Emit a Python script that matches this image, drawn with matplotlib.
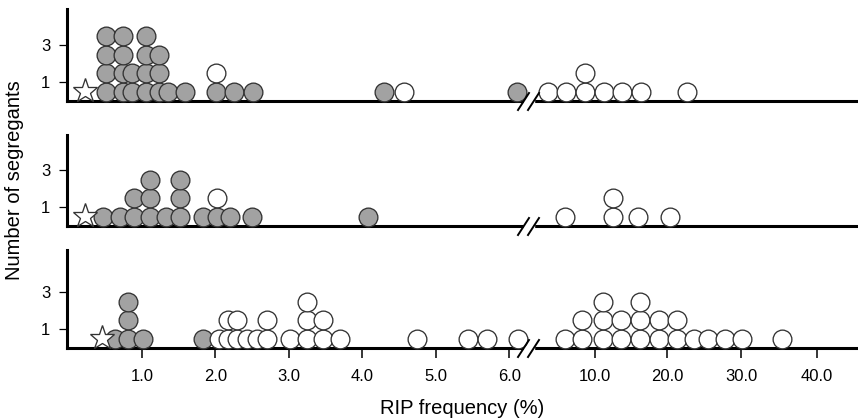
import numpy as np
import matplotlib as mpl
mpl.use('Agg')
import matplotlib.pyplot as plt
from matplotlib.lines import Line2D
from matplotlib.patches import Rectangle

plt.rcParams['font.family'] = ['Liberation Sans', 'DejaVu Sans']

# RIP frequency (%) of each dot column, and how many grey / open dots sit in it
top_vals = [0.51, 0.74, 0.86, 1.06, 1.23, 1.36, 1.59, 2.01, 2.25, 2.51, 4.30, 4.57, 6.11,
            7.0, 8.15, 9.35, 11.25, 13.75, 16.4, 22.7]
top_gray = [4, 4, 2, 4, 3, 1, 1, 1, 1, 1, 1, 0, 1, 0, 0, 0, 0, 0, 0, 0]
top_white = [0, 0, 0, 0, 0, 0, 0, 1, 0, 0, 0, 1, 0, 1, 1, 2, 1, 1, 1, 1]
top_star = 0.22

mid_vals = [0.47, 0.70, 0.89, 1.11, 1.33, 1.52, 1.83, 2.02, 2.20, 2.50, 4.08,
            8.1, 12.5, 16.0, 20.4]
mid_gray = [1, 1, 2, 3, 1, 3, 1, 1, 1, 1, 1, 0, 0, 0, 0]
mid_white = [0, 0, 0, 0, 0, 0, 0, 1, 0, 0, 0, 1, 2, 1, 1]
mid_star = 0.22

bot_vals = [0.63, 0.81, 1.01, 1.83, 2.05, 2.17, 2.30, 2.43, 2.57, 2.70, 3.02, 3.25, 3.47,
            3.70, 4.75, 5.44, 5.70, 6.12, 8.1, 9.2, 11.1, 13.6, 16.25, 18.9, 21.4, 23.6,
            25.6, 27.8, 30.1, 35.4]
bot_gray = [1, 3, 1, 1] + [0] * 26
bot_white = [0, 0, 0, 0, 1, 2, 2, 1, 1, 2, 1, 3, 2, 1, 1, 1, 1, 1,
             1, 2, 3, 2, 3, 2, 2, 1, 1, 1, 1, 1]
bot_star = 0.46

xticks = [1, 2, 3, 4, 5, 6, 10, 20, 30, 40]
xtick_labels = ['%.1f' % t for t in xticks]

# broken axis: piecewise linear mapping value -> pixel
axis_vals = [-0.5, 6.27, 6.5, 10, 20, 30, 40, 45.6]
axis_pix = [31.8, 529, 540, 595, 667, 741, 817, 858]


def fwd(x):
    return np.interp(x, axis_vals, axis_pix)


def inv(p):
    return np.interp(p, axis_pix, axis_vals)


W, H = 858, 420
X0, X1 = 67, 858
UNIT = 18.6
panels = [(9, 101), (135, 226), (250, 348)]
data = [(top_vals, top_gray, top_white, top_star),
        (mid_vals, mid_gray, mid_white, mid_star),
        (bot_vals, bot_gray, bot_white, bot_star)]

fig = plt.figure(figsize=(W / 100, H / 100), dpi=100)

for i, ((ptop, pbot), (vals, gray, white, star)) in enumerate(zip(panels, data)):
    ax = fig.add_axes([X0 / W, 1 - pbot / H, (X1 - X0) / W, (pbot - ptop) / H])
    ax.set_xscale('function', functions=(fwd, inv))
    ax.set_xlim(-0.02, 45.6)
    ax.set_ylim(0, (pbot - ptop) / UNIT)
    for s in ['top', 'right']:
        ax.spines[s].set_visible(False)
    for s in ['left', 'bottom']:
        ax.spines[s].set_linewidth(2.2)
        ax.spines[s].set_color('black')

    gx, gy, wx, wy = [], [], [], []
    for v, g, w in zip(vals, gray, white):
        for k in range(g):
            gx.append(v)
            gy.append(k + 0.5)
        for k in range(w):
            wx.append(v)
            wy.append(g + k + 0.5)
    ax.plot(gx, gy, 'o', ms=13.5, mfc='#a2a2a2', mec='#333333', mew=0.95,
            ls='none', clip_on=False, zorder=3)
    ax.plot(wx, wy, 'o', ms=13.5, mfc='white', mec='#333333', mew=0.95,
            ls='none', clip_on=False, zorder=3)
    ax.plot([star], [0.55], marker='*', ms=18.5, mfc='white', mec='#333333', mew=0.95,
            ls='none', clip_on=False, zorder=4)

    ax.set_yticks([1, 3])
    ax.set_yticklabels(['1', '3'])
    ax.tick_params(axis='y', length=6, width=0.9, pad=6, labelsize=12)
    ax.set_xticks(xticks)
    ax.minorticks_off()
    if i < 2:
        ax.tick_params(axis='x', bottom=False, labelbottom=False)
    else:
        ax.set_xticklabels(xtick_labels)
        ax.tick_params(axis='x', length=7.5, width=1.1, pad=7.5, labelsize=12)
        ax.set_xlabel('RIP frequency (%)', fontsize=14.5, labelpad=11)

    # break marks: white gap in the spine, then two slashes
    ax.add_patch(Rectangle((524 / W, 1 - (pbot + 2.5) / H), 10 / W, 5 / H,
                           transform=fig.transFigure, color='white', zorder=2.8,
                           clip_on=False))
    for xs in (518, 528):
        ax.add_line(Line2D([xs / W, (xs + 11) / W], [1 - (pbot + 9) / H, 1 - (pbot - 8) / H],
                           transform=fig.transFigure, color='black', lw=1.4, zorder=5,
                           clip_on=False))

fig.text(15 / W, 1 - 180 / H, 'Number of segregants', rotation=90, fontsize=14.5,
         ha='center', va='center')

fig.savefig('out.png', dpi=100)
